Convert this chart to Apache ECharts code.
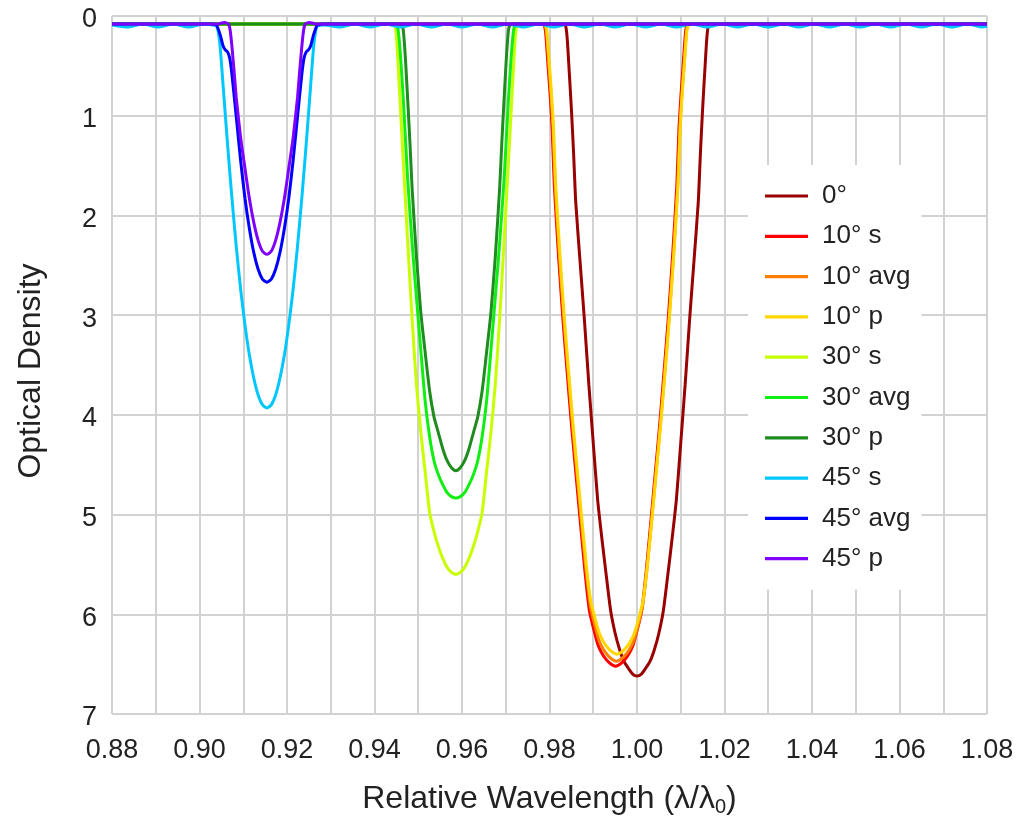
<!DOCTYPE html>
<html><head><meta charset="utf-8">
<script src="https://cdn.jsdelivr.net/npm/echarts@6/dist/echarts.min.js"></script>
<style>html,body{margin:0;padding:0;background:#fff}#c{width:1018px;height:822px}</style>
</head><body><div id="c"></div>
<script>
const seriesNames = ['0°','10° s','10° avg','10° p','30° s','30° avg','30° p','45° s','45° avg','45° p'];
const seriesColors = ['#990000','#ff0000','#ff7f00','#ffd700','#c8ff00','#11ee11','#1e8c1e','#00c8ff','#0000ff','#7f00ff'];

const deg0_x = [0.8800,0.9825,0.9836,0.9840,0.9845,0.9850,0.9855,0.9860,0.9870,0.9880,0.9890,0.9900,0.9910,0.9920,0.9930,0.9940,0.9950,0.9960,0.9970,0.9980,0.9990,1.0000,1.0010,1.0020,1.0030,1.0040,1.0050,1.0060,1.0070,1.0080,1.0090,1.0100,1.0110,1.0120,1.0130,1.0140,1.0145,1.0150,1.0155,1.0160,1.0164,1.0175,1.0800];
const deg0_y = [0.08,0.08,0.09,0.20,0.55,0.93,1.37,1.87,2.47,3.06,3.70,4.28,4.85,5.25,5.62,5.97,6.19,6.35,6.47,6.54,6.60,6.62,6.60,6.54,6.47,6.35,6.19,5.97,5.62,5.25,4.85,4.28,3.70,3.06,2.47,1.87,1.37,0.93,0.55,0.20,0.09,0.08,0.08];

const deg10s_x = [0.8800,0.9776,0.9787,0.9791,0.9796,0.9801,0.9806,0.9811,0.9821,0.9831,0.9841,0.9851,0.9861,0.9871,0.9881,0.9891,0.9901,0.9911,0.9921,0.9931,0.9941,0.9951,0.9961,0.9971,0.9981,0.9991,1.0001,1.0011,1.0021,1.0031,1.0041,1.0051,1.0061,1.0071,1.0081,1.0091,1.0096,1.0101,1.0106,1.0111,1.0115,1.0126,1.0800];
const deg10s_y = [0.08,0.08,0.09,0.16,0.46,0.76,1.12,1.70,2.43,3.06,3.61,4.14,4.62,5.10,5.57,5.96,6.15,6.31,6.40,6.46,6.50,6.52,6.50,6.46,6.40,6.31,6.15,5.96,5.57,5.10,4.62,4.14,3.61,3.06,2.43,1.70,1.12,0.76,0.46,0.16,0.09,0.08,0.08];

const deg10avg_x = [0.8800,0.9778,0.9789,0.9793,0.9798,0.9803,0.9808,0.9813,0.9823,0.9833,0.9843,0.9853,0.9863,0.9873,0.9883,0.9893,0.9903,0.9913,0.9923,0.9933,0.9943,0.9953,0.9963,0.9973,0.9983,0.9993,1.0003,1.0013,1.0023,1.0033,1.0043,1.0053,1.0063,1.0073,1.0083,1.0093,1.0098,1.0103,1.0108,1.0113,1.0117,1.0128,1.0800];
const deg10avg_y = [0.08,0.08,0.09,0.16,0.46,0.76,1.12,1.70,2.43,3.05,3.60,4.12,4.60,5.08,5.54,5.91,6.10,6.26,6.35,6.41,6.45,6.47,6.45,6.41,6.35,6.26,6.10,5.91,5.54,5.08,4.60,4.12,3.60,3.05,2.43,1.70,1.12,0.76,0.46,0.16,0.09,0.08,0.08];

const deg10p_x = [0.8800,0.9779,0.9790,0.9794,0.9799,0.9804,0.9809,0.9814,0.9824,0.9834,0.9844,0.9854,0.9864,0.9874,0.9884,0.9894,0.9904,0.9914,0.9924,0.9934,0.9944,0.9954,0.9964,0.9974,0.9984,0.9994,1.0004,1.0014,1.0024,1.0034,1.0044,1.0054,1.0064,1.0074,1.0084,1.0094,1.0099,1.0104,1.0109,1.0114,1.0118,1.0129,1.0800];
const deg10p_y = [0.08,0.08,0.09,0.15,0.44,0.74,1.10,1.68,2.40,3.03,3.58,4.10,4.58,5.05,5.50,5.86,6.04,6.19,6.28,6.34,6.38,6.40,6.38,6.34,6.28,6.19,6.04,5.86,5.50,5.05,4.58,4.10,3.58,3.03,2.40,1.68,1.10,0.74,0.44,0.15,0.09,0.08,0.08];

const deg30s_x = [0.8800,0.9435,0.9445,0.9448,0.9451,0.9456,0.9466,0.9476,0.9486,0.9496,0.9506,0.9516,0.9526,0.9536,0.9546,0.9556,0.9566,0.9576,0.9586,0.9596,0.9606,0.9616,0.9626,0.9636,0.9646,0.9656,0.9666,0.9676,0.9686,0.9696,0.9706,0.9716,0.9721,0.9724,0.9727,0.9737,1.0800];
const deg30s_y = [0.08,0.08,0.08,0.12,0.26,0.66,1.48,2.28,3.04,3.70,4.18,4.58,4.98,5.17,5.32,5.44,5.53,5.58,5.60,5.58,5.53,5.44,5.32,5.17,4.98,4.58,4.18,3.70,3.04,2.28,1.48,0.66,0.26,0.12,0.08,0.08,0.08];

const deg30avg_x = [0.8800,0.9442,0.9452,0.9456,0.9461,0.9466,0.9476,0.9486,0.9496,0.9506,0.9516,0.9526,0.9536,0.9546,0.9556,0.9566,0.9576,0.9586,0.9596,0.9606,0.9616,0.9626,0.9636,0.9646,0.9656,0.9666,0.9676,0.9686,0.9696,0.9706,0.9711,0.9716,0.9720,0.9730,1.0800];
const deg30avg_y = [0.08,0.08,0.10,0.22,0.50,0.85,1.65,2.28,2.83,3.36,3.87,4.22,4.46,4.60,4.70,4.78,4.82,4.835,4.82,4.78,4.70,4.60,4.46,4.22,3.87,3.36,2.83,2.28,1.65,0.85,0.50,0.22,0.10,0.08,0.08];

const deg30p_x = [0.8800,0.9452,0.9462,0.9466,0.9471,0.9476,0.9481,0.9486,0.9496,0.9506,0.9516,0.9526,0.9536,0.9546,0.9556,0.9566,0.9576,0.9586,0.9596,0.9606,0.9616,0.9626,0.9636,0.9646,0.9656,0.9666,0.9676,0.9686,0.9691,0.9696,0.9701,0.9706,0.9710,0.9720,1.0800];
const deg30p_y = [0.08,0.08,0.09,0.15,0.45,0.85,1.27,1.73,2.42,2.98,3.38,3.76,4.02,4.18,4.34,4.46,4.53,4.56,4.53,4.46,4.34,4.18,4.02,3.76,3.38,2.98,2.42,1.73,1.27,0.85,0.45,0.15,0.09,0.08,0.08];

const deg45s_x = [0.8800,0.8835,0.8870,0.8905,0.8940,0.8975,0.9010,0.9030,0.9038,0.9042,0.9047,0.9054,0.9064,0.9074,0.9084,0.9094,0.9104,0.9114,0.9124,0.9134,0.9144,0.9154,0.9164,0.9174,0.9184,0.9194,0.9204,0.9214,0.9224,0.9234,0.9244,0.9254,0.9261,0.9266,0.9270,0.9285,0.9320,0.9355,0.9390,0.9425,0.9460,0.9495,0.9530,0.9565,0.9600,0.9635,0.9670,0.9705,0.9740,0.9775,0.9810,0.9845,0.9880,0.9915,0.9950,0.9985,1.0020,1.0055,1.0090,1.0125,1.0160,1.0195,1.0230,1.0265,1.0300,1.0335,1.0370,1.0405,1.0440,1.0475,1.0510,1.0545,1.0580,1.0615,1.0650,1.0685,1.0720,1.0755,1.0790,1.0800];
const deg45s_y = [0.09,0.11,0.08,0.11,0.08,0.11,0.08,0.09,0.10,0.14,0.30,0.70,1.28,1.82,2.31,2.74,3.10,3.40,3.63,3.80,3.90,3.93,3.90,3.80,3.63,3.40,3.10,2.74,2.31,1.82,1.28,0.70,0.30,0.14,0.10,0.09,0.11,0.08,0.11,0.08,0.11,0.08,0.11,0.08,0.11,0.08,0.11,0.08,0.11,0.08,0.11,0.08,0.11,0.08,0.11,0.08,0.11,0.08,0.11,0.08,0.11,0.08,0.11,0.08,0.11,0.08,0.11,0.08,0.11,0.08,0.11,0.08,0.11,0.08,0.11,0.08,0.11,0.08,0.11,0.10];

const deg45avg_x = [0.8800,0.9025,0.9038,0.9042,0.9048,0.9054,0.9059,0.9064,0.9069,0.9074,0.9084,0.9094,0.9104,0.9114,0.9124,0.9134,0.9144,0.9154,0.9164,0.9174,0.9184,0.9194,0.9204,0.9214,0.9224,0.9234,0.9239,0.9244,0.9249,0.9254,0.9260,0.9266,0.9270,0.9285,1.0800];
const deg45avg_y = [0.08,0.08,0.09,0.12,0.20,0.30,0.34,0.36,0.42,0.58,1.01,1.45,1.83,2.13,2.37,2.54,2.64,2.67,2.64,2.54,2.37,2.13,1.83,1.45,1.01,0.58,0.42,0.36,0.34,0.30,0.20,0.12,0.09,0.08,0.08];

const deg45p_x = [0.8800,0.9030,0.9044,0.9050,0.9058,0.9066,0.9070,0.9074,0.9079,0.9084,0.9094,0.9104,0.9114,0.9124,0.9134,0.9144,0.9154,0.9164,0.9174,0.9184,0.9194,0.9204,0.9214,0.9224,0.9229,0.9234,0.9238,0.9242,0.9250,0.9258,0.9264,0.9280,1.0800];
const deg45p_y = [0.08,0.08,0.08,0.07,0.065,0.08,0.14,0.30,0.55,0.82,1.22,1.53,1.83,2.07,2.25,2.36,2.39,2.36,2.25,2.07,1.83,1.53,1.22,0.82,0.55,0.30,0.14,0.08,0.065,0.07,0.08,0.08,0.08];

const xTickValues = [0.88,0.90,0.92,0.94,0.96,0.98,1.00,1.02,1.04,1.06,1.08];
const yTickValues = [0,1,2,3,4,5,6,7];

const allX = [deg0_x,deg10s_x,deg10avg_x,deg10p_x,deg30s_x,deg30avg_x,deg30p_x,deg45s_x,deg45avg_x,deg45p_x];
const allY = [deg0_y,deg10s_y,deg10avg_y,deg10p_y,deg30s_y,deg30avg_y,deg30p_y,deg45s_y,deg45avg_y,deg45p_y];

const FONT = '"Liberation Sans", Arial, Helvetica, sans-serif';
const chart = echarts.init(document.getElementById('c'), null, {renderer: 'canvas'});
const series = seriesNames.map((n, i) => ({
  name: n,
  type: 'line',
  data: allX[i].map((x, j) => [x, allY[i][j]]),
  smooth: 0.2,
  symbol: 'none',
  showSymbol: false,
  lineStyle: {color: seriesColors[i], width: 3},
  itemStyle: {color: seriesColors[i]},
  emphasis: {disabled: true},
  animation: false
}));

chart.setOption({
  backgroundColor: '#fff',
  animation: false,
  textStyle: {fontFamily: FONT},
  grid: {left: 112, right: 31, top: 16, bottom: 105, containLabel: false},
  legend: {
    orient: 'vertical',
    left: 748, top: 165,
    padding: [18, 11, 18, 17],
    backgroundColor: '#fff',
    itemWidth: 43, itemHeight: 14, itemGap: 14.3,
    icon: 'path://M0,0L43,0L43,3.2L0,3.2Z',
    textStyle: {fontSize: 26, color: '#222', fontFamily: FONT, padding: [0, 0, 0, 9]},
    data: seriesNames
  },
  xAxis: {
    type: 'value',
    min: 0.88, max: 1.08, interval: 0.01,
    name: '{t|Relative Wavelength (λ/λ}{s|0}{t|)}',
    nameLocation: 'middle',
    nameGap: 68,
    nameTextStyle: {
      color: '#222',
      rich: {
        t: {fontSize: 32, fontFamily: FONT, color: '#222'},
        s: {fontSize: 20, fontFamily: FONT, color: '#222', padding: [15, 0, 0, 0]}
      }
    },
    axisLine: {show: false},
    axisTick: {show: false},
    axisLabel: {
      fontSize: 27, color: '#222', margin: 23, fontFamily: FONT,
      formatter: v => {
        const k = Math.round(v * 100);
        const t = xTickValues.find(tv => Math.round(tv * 100) === k);
        return t === undefined ? '' : t.toFixed(2);
      }
    },
    splitLine: {show: true, lineStyle: {color: '#d2d2d2', width: 2}}
  },
  yAxis: {
    type: 'value',
    inverse: true,
    min: 0, max: 7, interval: 1,
    name: 'Optical Density',
    nameLocation: 'middle',
    nameGap: 65,
    nameTextStyle: {fontSize: 32, color: '#222', fontFamily: FONT, padding: [0, 12, 0, 0]},
    axisLine: {show: false},
    axisTick: {show: false},
    axisLabel: {
      color: '#222', margin: 15,
      formatter: v => { const t = yTickValues.find(tv => tv === Math.round(v)); return t === undefined ? '' : '{n|' + t + '}'; },
      rich: {n: {fontSize: 27, color: '#222', fontFamily: FONT, padding: [8, 0, 0, 0]}}
    },
    splitLine: {show: true, lineStyle: {color: '#d2d2d2', width: 2}}
  },
  series: series
});
</script>
</body></html>
